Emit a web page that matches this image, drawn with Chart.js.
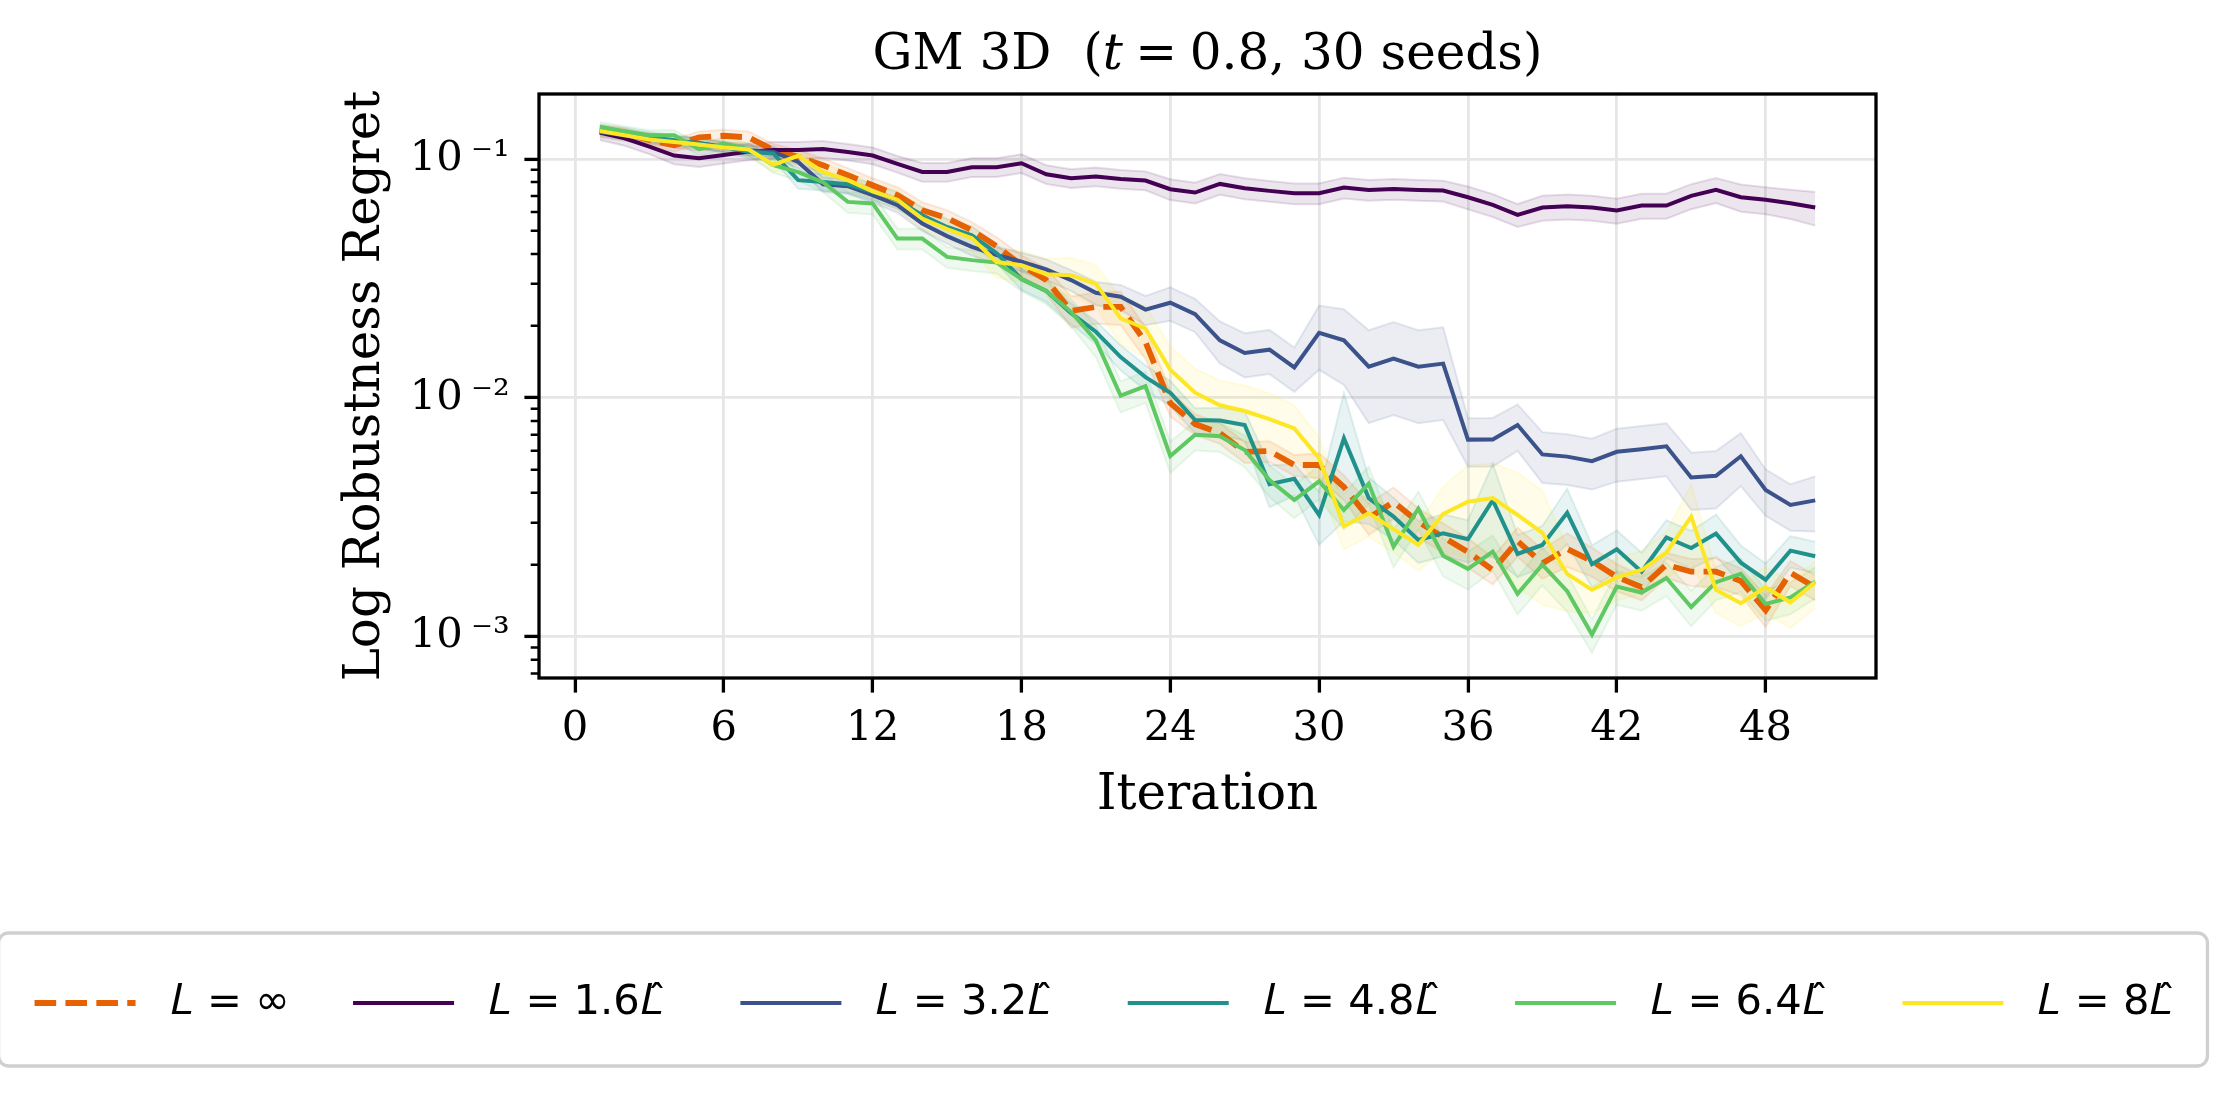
<!DOCTYPE html>
<html>
<head>
<meta charset="utf-8">
<script src="https://cdn.jsdelivr.net/npm/chart.js@4.4.1/dist/chart.umd.min.js"></script>
<style>
  html, body { margin: 0; padding: 0; background: #fff; }
  canvas { display: block; }
</style>
</head>
<body>
<canvas id="regretChart" width="2239" height="1096"></canvas>
<script>
// iterations on the x axis
const iterations = [1,2,3,4,5,6,7,8,9,10,11,12,13,14,15,16,17,18,19,20,21,22,23,24,25,
  26,27,28,29,30,31,32,33,34,35,36,37,38,39,40,41,42,43,44,45,46,47,48,49,50];

const xTicks = [0, 6, 12, 18, 24, 30, 36, 42, 48];
const yMajorTicks = [0.001, 0.01, 0.1];
const yMinorTicks = [0.0007, 0.0008, 0.0009,
  0.002, 0.003, 0.004, 0.005, 0.006, 0.007, 0.008, 0.009,
  0.02, 0.03, 0.04, 0.05, 0.06, 0.07, 0.08, 0.09];
const yTickLabels = ['10\u2009\u207B\u00B3', '10\u2009\u207B\u00B2', '10\u2009\u207B\u00B9'];

// trailing spaces keep the column gaps of the original legend
const legendNames = [' \u{1D43F} = \u221E ', ' \u{1D43F} = 1.6\u{1D43F}\u0302  ', ' \u{1D43F} = 3.2\u{1D43F}\u0302  ',
  ' \u{1D43F} = 4.8\u{1D43F}\u0302  ', ' \u{1D43F} = 6.4\u{1D43F}\u0302  ', ' \u{1D43F} = 8\u{1D43F}\u0302'];
const lineColors = ['#e66101', '#440154', '#3b528b', '#21918c', '#5ec962', '#fde725'];

// mean log robustness regret, one list per L
const regretInf = [0.132, 0.128, 0.120, 0.114, 0.123, 0.125, 0.123, 0.109, 0.102, 0.094,
  0.0855, 0.0776, 0.0705, 0.061, 0.0565, 0.0503, 0.0431, 0.0359, 0.0311, 0.0231,
  0.024, 0.024, 0.0171, 0.0095, 0.00776, 0.00712, 0.00593, 0.00598, 0.00523, 0.00523,
  0.00423, 0.00314, 0.00366, 0.00302, 0.00261, 0.00226, 0.0019, 0.00251, 0.00203, 0.00233,
  0.00207, 0.00178, 0.00161, 0.002, 0.00187, 0.00187, 0.00171, 0.00129, 0.00185, 0.00161];
const regret16 = [0.129, 0.122, 0.1126, 0.1033, 0.1006, 0.1039, 0.1073, 0.109, 0.109, 0.110,
  0.107, 0.1033, 0.0953, 0.0882, 0.0882, 0.0923, 0.0923, 0.0959, 0.0863, 0.083,
  0.0844, 0.0825, 0.0812, 0.0747, 0.0723, 0.0786, 0.0754, 0.0735, 0.0718, 0.0718,
  0.0759, 0.0742, 0.0749, 0.0742, 0.0737, 0.0691, 0.0642, 0.0583, 0.0626, 0.0634,
  0.0626, 0.0608, 0.0638, 0.0638, 0.070, 0.0742, 0.0691, 0.0674, 0.0652, 0.0626];
const regret32 = [0.1297, 0.1256, 0.1217, 0.1189, 0.1166, 0.1122, 0.1087, 0.107, 0.0971, 0.0783,
  0.0769, 0.0705, 0.064, 0.0537, 0.0475, 0.0428, 0.0396, 0.0371, 0.0345, 0.0311,
  0.0275, 0.0265, 0.0234, 0.025, 0.0224, 0.0174, 0.0154, 0.0159, 0.0134, 0.0187,
  0.0174, 0.0135, 0.0146, 0.0135, 0.0139, 0.00668, 0.00669, 0.00769, 0.00579, 0.00567,
  0.00543, 0.00594, 0.00609, 0.00626, 0.00464, 0.00471, 0.00569, 0.00411, 0.00356, 0.00372];
const regret48 = [0.1327, 0.1285, 0.1236, 0.1198, 0.1163, 0.1122, 0.107, 0.1053, 0.0815, 0.0801,
  0.0783, 0.0728, 0.0672, 0.0581, 0.0519, 0.0479, 0.0403, 0.0314, 0.028, 0.0226,
  0.0189, 0.0148, 0.0122, 0.0105, 0.00807, 0.00803, 0.00769, 0.00435, 0.00458, 0.00323,
  0.00676, 0.0038, 0.00318, 0.00254, 0.00271, 0.00256, 0.00373, 0.00222, 0.00242, 0.0033,
  0.00201, 0.00232, 0.00187, 0.0026, 0.00235, 0.0027, 0.00204, 0.00173, 0.00229, 0.00217];
const regret64 = [0.136, 0.1305, 0.1256, 0.1256, 0.1098, 0.116, 0.1098, 0.0941, 0.088, 0.0799,
  0.0661, 0.0651, 0.0464, 0.0464, 0.0389, 0.0377, 0.0368, 0.0314, 0.028, 0.0229,
  0.0174, 0.0102, 0.0112, 0.0057, 0.007, 0.0069, 0.00604, 0.00452, 0.00373, 0.00447,
  0.00339, 0.00437, 0.00238, 0.00343, 0.00218, 0.00192, 0.00227, 0.00151, 0.002, 0.00155,
  0.00102, 0.00162, 0.00153, 0.00176, 0.00133, 0.00169, 0.00183, 0.00137, 0.00146, 0.0017];
const regret8 = [0.1309, 0.1256, 0.1206, 0.1178, 0.1149, 0.1116, 0.1095, 0.0946, 0.1031, 0.0882,
  0.0815, 0.0732, 0.0675, 0.0563, 0.0508, 0.0466, 0.037, 0.0359, 0.0329, 0.0326,
  0.03, 0.0215, 0.0195, 0.0131, 0.0105, 0.0093, 0.0088, 0.00814, 0.00744, 0.00558,
  0.0029, 0.00328, 0.00282, 0.00242, 0.00326, 0.00367, 0.0038, 0.00323, 0.00272, 0.00183,
  0.00157, 0.00177, 0.0019, 0.00225, 0.00318, 0.00157, 0.00138, 0.00161, 0.00139, 0.00169];

// standard error over seeds, relative to the mean (shaded bands)
const errInf = [0.05,0.05,0.05,0.06,0.06,0.06,0.06,0.06,0.07,0.07, 0.07,0.07,0.08,0.08,0.08,0.08,0.09,0.10,0.12,0.15,
  0.15,0.16,0.15,0.12,0.10,0.10,0.10,0.10,0.10,0.12, 0.12,0.15,0.15,0.14,0.14,0.14,0.13,0.14,0.14,0.16,
  0.14,0.13,0.12,0.12,0.13,0.14,0.13,0.15,0.12,0.12];
const err16 = [0.07,0.07,0.07,0.08,0.08,0.08,0.08,0.08,0.08,0.08, 0.08,0.08,0.08,0.09,0.09,0.09,0.09,0.09,0.09,0.09,
  0.09,0.09,0.09,0.10,0.10,0.10,0.10,0.10,0.10,0.10, 0.10,0.10,0.10,0.10,0.10,0.11,0.11,0.11,0.12,0.12,
  0.12,0.12,0.12,0.12,0.12,0.12,0.13,0.13,0.14,0.16];
const err32 = [0.05,0.05,0.05,0.05,0.05,0.05,0.05,0.05,0.06,0.07, 0.07,0.07,0.07,0.07,0.07,0.08,0.08,0.09,0.10,0.10,
  0.11,0.12,0.14,0.16,0.16,0.20,0.21,0.21,0.21,0.30, 0.35,0.42,0.42,0.42,0.42,0.23,0.23,0.22,0.24,0.24,
  0.24,0.25,0.25,0.25,0.27,0.27,0.25,0.22,0.22,0.26];
const err48 = [0.05,0.05,0.05,0.05,0.05,0.05,0.06,0.06,0.08,0.08, 0.08,0.08,0.08,0.08,0.08,0.09,0.09,0.10,0.10,0.10,
  0.11,0.12,0.12,0.12,0.12,0.13,0.14,0.20,0.15,0.25, 0.55,0.22,0.20,0.20,0.20,0.20,0.42,0.20,0.20,0.26,
  0.20,0.20,0.20,0.18,0.18,0.20,0.18,0.17,0.15,0.15];
const err64 = [0.05,0.05,0.05,0.05,0.06,0.06,0.06,0.07,0.08,0.09, 0.10,0.10,0.10,0.10,0.10,0.10,0.10,0.11,0.12,0.13,
  0.15,0.15,0.15,0.15,0.14,0.14,0.15,0.15,0.16,0.16, 0.17,0.18,0.18,0.18,0.18,0.18,0.17,0.18,0.18,0.18,
  0.16,0.16,0.16,0.16,0.17,0.16,0.16,0.15,0.15,0.15];
const err8 = [0.05,0.05,0.05,0.05,0.05,0.05,0.06,0.07,0.07,0.08, 0.08,0.08,0.09,0.10,0.10,0.12,0.14,0.15,0.16,0.18,
  0.20,0.22,0.24,0.25,0.26,0.27,0.28,0.28,0.25,0.22, 0.20,0.20,0.20,0.22,0.30,0.42,0.40,0.50,0.50,0.30,
  0.20,0.20,0.20,0.22,0.36,0.20,0.20,0.22,0.22,0.22];

const meanLists = [regretInf, regret16, regret32, regret48, regret64, regret8];
const errLists = [errInf, err16, err32, err48, err64, err8];

function rgba(hex, a) {
  const n = parseInt(hex.slice(1), 16);
  return 'rgba(' + (n >> 16) + ',' + ((n >> 8) & 255) + ',' + (n & 255) + ',' + a + ')';
}

function points(vals) {
  return iterations.map((it, k) => ({ x: it, y: vals[k] }));
}

// bands first (drawn underneath), then the mean lines
let datasets = [];
meanLists.forEach((vals, s) => {
  const err = errLists[s];
  const c = lineColors[s];
  datasets.push({
    label: 'band-hi-' + s,
    data: points(vals.map((v, k) => v * (1 + err[k]))),
    borderColor: rgba(c, 0.13), borderWidth: 2,
    backgroundColor: rgba(c, 0.1), fill: '+1',
    pointRadius: 0, tension: 0, order: 20 + s
  });
  datasets.push({
    label: 'band-lo-' + s,
    data: points(vals.map((v, k) => v * (1 - err[k]))),
    borderColor: rgba(c, 0.13), borderWidth: 2,
    fill: false, pointRadius: 0, tension: 0, order: 20 + s
  });
});
meanLists.forEach((vals, s) => {
  datasets.push({
    label: legendNames[s],
    data: points(vals),
    borderColor: lineColors[s],
    borderWidth: s === 0 ? 5.8 : 4,
    borderDash: s === 0 ? [21.6, 9.3] : [],
    fill: false, pointRadius: 0, tension: 0,
    order: 10 - s
  });
});

// minor y ticks and the axes box
const axisBox = {
  id: 'axisBox',
  afterDatasetsDraw(chart) {
    const { ctx, chartArea: a, scales: { y } } = chart;
    ctx.save();
    ctx.strokeStyle = '#000';
    ctx.lineWidth = 2.5;
    ctx.beginPath();
    yMinorTicks.forEach(v => {
      const py = y.getPixelForValue(v);
      ctx.moveTo(a.left - 8.3, py);
      ctx.lineTo(a.left, py);
    });
    ctx.stroke();
    ctx.lineWidth = 3.3;
    ctx.strokeRect(a.left, a.top, a.right - a.left, a.bottom - a.top);
    ctx.restore();
  }
};

// matplotlib-like frame round the legend
const legendFrame = {
  id: 'legendFrame',
  afterDraw(chart) {
    const boxes = chart.legend.legendHitBoxes;
    if (!boxes || !boxes.length) return;
    const left = Math.min(...boxes.map(b => b.left)) - 36;
    const right = Math.max(...boxes.map(b => b.left + b.width)) + 34;
    const mid = boxes[0].top + boxes[0].height / 2;
    const ctx = chart.ctx;
    ctx.save();
    ctx.strokeStyle = '#d0d0d0';
    ctx.lineWidth = 3.3;
    ctx.beginPath();
    ctx.roundRect(left, mid - 70, right - left, 133, 10);
    ctx.stroke();
    ctx.restore();
  }
};

const serif = 'DejaVu Serif';

new Chart(document.getElementById('regretChart'), {
  type: 'line',
  data: { datasets },
  options: {
    responsive: false,
    animation: false,
    devicePixelRatio: 1,
    layout: { padding: { left: -31, right: 0, top: 0, bottom: 62.15 } },
    scales: {
      x: {
        type: 'linear',
        min: -1.45, max: 52.45,
        afterBuildTicks: s => { s.ticks = xTicks.map(v => ({ value: v })); },
        afterFit: s => { s.height = 254.15; },
        ticks: { color: '#000', font: { family: serif, size: 41.7 }, padding: 12, autoSkip: false, maxRotation: 0 },
        grid: { color: '#e6e6e6', lineWidth: 2.8, tickLength: 14.6, tickWidth: 3.3, tickColor: '#000' },
        border: { display: false },
        title: { display: true, text: 'Iteration', color: '#000', font: { family: serif, size: 50 }, padding: { top: 0, bottom: 106 } }
      },
      y: {
        type: 'logarithmic',
        position: 'left',
        min: 6.71e-4, max: 0.187,
        afterBuildTicks: s => { s.ticks = yMajorTicks.concat(yMinorTicks).sort((a, b) => a - b).map(v => ({ value: v })); },
        afterFit: s => { s.width = 570; },
        ticks: {
          color: '#000', font: { family: serif, size: 41.7 }, padding: 14.6, autoSkip: false,
          callback: v => { const i = yMajorTicks.indexOf(v); return i >= 0 ? yTickLabels[i] : ''; }
        },
        grid: {
          color: c => yMajorTicks.includes(c.tick.value) ? '#e6e6e6' : 'rgba(0,0,0,0)',
          lineWidth: 2.8, tickLength: 14.6, tickWidth: 3.3,
          tickColor: c => yMajorTicks.includes(c.tick.value) ? '#000' : 'rgba(0,0,0,0)'
        },
        border: { display: false },
        title: { display: true, text: 'Log Robustness Regret', color: '#000', font: { family: serif, size: 50 }, padding: { top: 367, bottom: 0 } }
      },
      spacer: {
        type: 'linear',
        position: 'right',
        display: true,
        afterFit: s => { s.width = 363; },
        ticks: { display: false },
        grid: { display: false, drawTicks: false },
        border: { display: false }
      }
    },
    plugins: {
      title: {
        display: true,
        text: 'GM 3D  (\u{1D461}\u2005=\u20050.8, 30 seeds)',
        color: '#000',
        font: { family: serif, size: 50, weight: 'normal' },
        padding: { top: 26, bottom: 8 },
        fullSize: false
      },
      legend: {
        position: 'bottom',
        labels: {
          color: '#000',
          font: { family: 'DejaVu Sans', size: 41.7 },
          usePointStyle: true,
          pointStyleWidth: 101,
          padding: 50,
          generateLabels: chart => legendNames.map((name, s) => ({
            text: name,
            strokeStyle: lineColors[s],
            fillStyle: lineColors[s],
            lineWidth: s === 0 ? 5.8 : 4,
            lineDash: s === 0 ? [21.6, 9.3] : [],
            pointStyle: 'line',
            fontColor: '#000',
            hidden: false,
            datasetIndex: chart.data.datasets.findIndex(d => d.label === name)
          }))
        }
      },
      tooltip: { enabled: false }
    }
  },
  plugins: [axisBox, legendFrame]
});
</script>
</body>
</html>
